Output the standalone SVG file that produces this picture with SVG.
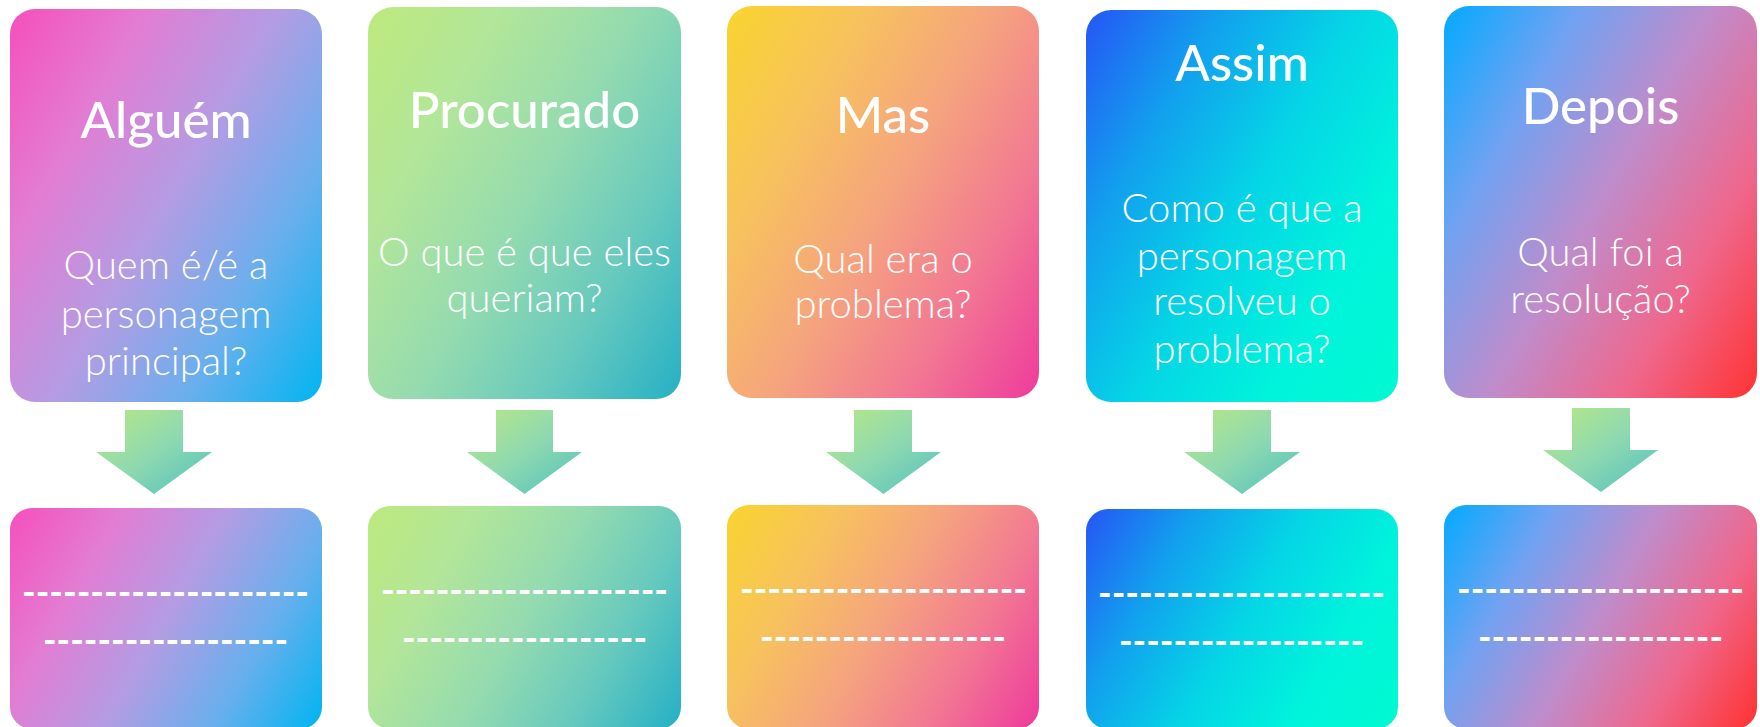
<svg xmlns="http://www.w3.org/2000/svg" xmlns:xlink="http://www.w3.org/1999/xlink" width="1760" height="727" viewBox="0 0 1760 727">
<style>
.title{font-family:Lato,"Noto Sans","Liberation Sans",sans-serif;font-weight:500;font-size:51px;fill:#fff;text-anchor:middle}
.sub{font-family:Lato,"Noto Sans","Liberation Sans",sans-serif;font-weight:300;font-size:40px;fill:#fff;text-anchor:middle}
.dash{font-family:Lato,"Noto Sans","Liberation Sans",sans-serif;font-weight:700;font-size:38px;fill:#fff;text-anchor:middle}
</style>
<defs>
<linearGradient id="c1"><stop offset="0" stop-color="#f54fbc"/><stop offset="0.25" stop-color="#e37cd3"/><stop offset="0.5" stop-color="#b49ce3"/><stop offset="0.75" stop-color="#68afed"/><stop offset="1" stop-color="#00b5f1"/></linearGradient>
<linearGradient id="c2"><stop offset="0" stop-color="#bde97c"/><stop offset="0.25" stop-color="#b2e699"/><stop offset="0.5" stop-color="#95dbaf"/><stop offset="0.75" stop-color="#66c9be"/><stop offset="1" stop-color="#26b0c5"/></linearGradient>
<linearGradient id="c3"><stop offset="0" stop-color="#f9d42e"/><stop offset="0.25" stop-color="#f7c35c"/><stop offset="0.5" stop-color="#f5a47e"/><stop offset="0.75" stop-color="#f27793"/><stop offset="1" stop-color="#ee3b9c"/></linearGradient>
<linearGradient id="c4"><stop offset="0" stop-color="#2655f5"/><stop offset="0.25" stop-color="#12a0ee"/><stop offset="0.5" stop-color="#05d5e6"/><stop offset="0.75" stop-color="#00f3dc"/><stop offset="1" stop-color="#00fad0"/></linearGradient>
<linearGradient id="c5"><stop offset="0" stop-color="#02aaff"/><stop offset="0.25" stop-color="#70a2f2"/><stop offset="0.5" stop-color="#bf8ccb"/><stop offset="0.75" stop-color="#ef678c"/><stop offset="1" stop-color="#ff3333"/></linearGradient>
<linearGradient id="ga" x1="0" y1="0" x2="1" y2="1"><stop offset="0" stop-color="#b9e884"/><stop offset="0.5" stop-color="#8fd9b0"/><stop offset="1" stop-color="#4fc0bd"/></linearGradient>
<linearGradient id="t1" href="#c1" gradientUnits="userSpaceOnUse" x1="10" y1="9" x2="414" y2="242"/>
<linearGradient id="t2" href="#c2" gradientUnits="userSpaceOnUse" x1="368" y1="7" x2="772" y2="240"/>
<linearGradient id="t3" href="#c3" gradientUnits="userSpaceOnUse" x1="727" y1="6" x2="1131" y2="239"/>
<linearGradient id="t4" href="#c4" gradientUnits="userSpaceOnUse" x1="1086" y1="10" x2="1490" y2="243"/>
<linearGradient id="t5" href="#c5" gradientUnits="userSpaceOnUse" x1="1444" y1="6" x2="1848" y2="239"/>
<linearGradient id="b1" href="#c1" gradientUnits="userSpaceOnUse" x1="10" y1="508" x2="339" y2="698"/>
<linearGradient id="b2" href="#c2" gradientUnits="userSpaceOnUse" x1="368" y1="506" x2="697" y2="696"/>
<linearGradient id="b3" href="#c3" gradientUnits="userSpaceOnUse" x1="727" y1="505" x2="1056" y2="695"/>
<linearGradient id="b4" href="#c4" gradientUnits="userSpaceOnUse" x1="1086" y1="509" x2="1415" y2="699"/>
<linearGradient id="b5" href="#c5" gradientUnits="userSpaceOnUse" x1="1444" y1="505" x2="1773" y2="695"/>
</defs>
<rect width="1760" height="727" fill="#fff"/>

<g id="node-alguem">
<rect x="10" y="9" width="312" height="393" rx="25" fill="url(#t1)"/>
<text class="title" x="166" y="138">Alguém</text>
<text class="sub" x="166" y="279">Quem é/é a</text>
<text class="sub" x="166" y="328">personagem</text>
<text class="sub" x="166" y="375">principal?</text>
</g>
<g id="node-procurado">
<rect x="368" y="7" width="313" height="392" rx="25" fill="url(#t2)"/>
<text class="title" x="524.5" y="128">Procurado</text>
<text class="sub" x="524.5" y="266">O que é que eles</text>
<text class="sub" x="524.5" y="312">queriam?</text>
</g>
<g id="node-mas">
<rect x="727" y="6" width="312" height="392" rx="25" fill="url(#t3)"/>
<text class="title" x="883" y="133">Mas</text>
<text class="sub" x="883" y="273">Qual era o</text>
<text class="sub" x="883" y="318">problema?</text>
</g>
<g id="node-assim">
<rect x="1086" y="10" width="312" height="392" rx="25" fill="url(#t4)"/>
<text class="title" x="1242" y="81">Assim</text>
<text class="sub" x="1242" y="222">Como é que a</text>
<text class="sub" x="1242" y="270">personagem</text>
<text class="sub" x="1242" y="315">resolveu o</text>
<text class="sub" x="1242" y="363">problema?</text>
</g>
<g id="node-depois">
<rect x="1444" y="6" width="313" height="392" rx="25" fill="url(#t5)"/>
<text class="title" x="1600.5" y="124">Depois</text>
<text class="sub" x="1600.5" y="266">Qual foi a</text>
<text class="sub" x="1600.5" y="313">resolução?</text>
</g>

<g id="node-answer-1">
<rect x="10" y="508" width="312" height="221" rx="22" fill="url(#b1)"/>
<text class="dash" x="165.5" y="606" textLength="287" lengthAdjust="spacingAndGlyphs">---------------------</text>
<text class="dash" x="165.5" y="654" textLength="245" lengthAdjust="spacingAndGlyphs">------------------</text>
</g>
<g id="node-answer-2">
<rect x="368" y="506" width="313" height="223" rx="22" fill="url(#b2)"/>
<text class="dash" x="524.5" y="604" textLength="287" lengthAdjust="spacingAndGlyphs">---------------------</text>
<text class="dash" x="524.5" y="652" textLength="245" lengthAdjust="spacingAndGlyphs">------------------</text>
</g>
<g id="node-answer-3">
<rect x="727" y="505" width="312" height="224" rx="22" fill="url(#b3)"/>
<text class="dash" x="883.5" y="603" textLength="287" lengthAdjust="spacingAndGlyphs">---------------------</text>
<text class="dash" x="883" y="651" textLength="246" lengthAdjust="spacingAndGlyphs">------------------</text>
</g>
<g id="node-answer-4">
<rect x="1086" y="509" width="312" height="220" rx="22" fill="url(#b4)"/>
<text class="dash" x="1241.5" y="607" textLength="287" lengthAdjust="spacingAndGlyphs">---------------------</text>
<text class="dash" x="1241.5" y="655" textLength="245" lengthAdjust="spacingAndGlyphs">------------------</text>
</g>
<g id="node-answer-5">
<rect x="1444" y="505" width="313" height="224" rx="22" fill="url(#b5)"/>
<text class="dash" x="1600.5" y="603" textLength="287" lengthAdjust="spacingAndGlyphs">---------------------</text>
<text class="dash" x="1600.5" y="651" textLength="245" lengthAdjust="spacingAndGlyphs">------------------</text>
</g>

<g id="connectors" fill="url(#ga)">
<polygon points="125,410 183,410 183,452 212,452 154,494 96,452 125,452"/>
<polygon points="496,410 553,410 553,452 582,452 524.5,494 467,452 496,452"/>
<polygon points="854,410 912,410 912,452 941,452 883.5,494 826,452 854,452"/>
<polygon points="1213,410 1271,410 1271,452 1300,452 1242,494 1184,452 1213,452"/>
<polygon points="1572,408 1630,408 1630,450 1658,450 1601,492 1543,450 1572,450"/>
</g>
</svg>
